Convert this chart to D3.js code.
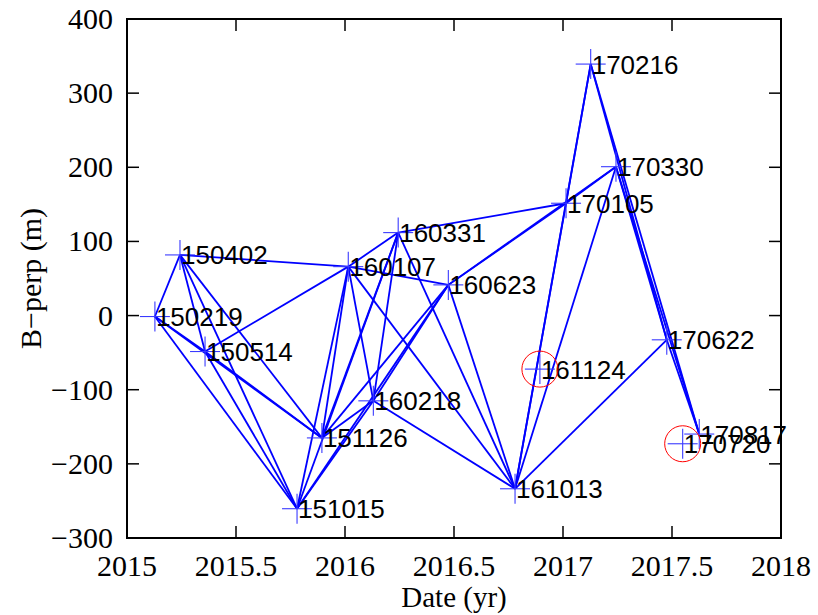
<!DOCTYPE html>
<html>
<head>
<meta charset="utf-8">
<script src="https://cdn.jsdelivr.net/npm/d3@7"></script>
<style>
  html, body { margin: 0; padding: 0; background: #fff; }
  svg { display: block; }
</style>
</head>
<body>
<svg id="chart" width="818" height="615"></svg>
<script>
// ---- data ----
const scenes = ["150219","150402","150514","151015","151126","160107","160218","160331","160623",
                "161013","161124","170105","170216","170330","170622","170720","170817"];
const dateYr = [2015.128,2015.243,2015.358,2015.780,2015.894,2016.015,2016.130,2016.244,2016.474,
                2016.780,2016.894,2017.014,2017.127,2017.243,2017.476,2017.549,2017.625];
const bperp  = [-1.3,81.8,-48.5,-260.5,-165,66,-115,111.9,41.4,
                -233.6,-72.2,151.5,339.2,200.8,-32.7,-172.9,-159.8];
const pairsFrom = ["150219","150219","150219","150219","150402","150402","150402","150402",
                   "150514","150514","150514","151015","151015","151015","151015",
                   "151126","151126","151126","151126","160107","160107","160107","160107",
                   "160218","160218","160218","160331","160331","160623","160623","160623",
                   "161013","161013","161013","161013","170105","170105",
                   "170216","170216","170330","170330","170622"];
const pairsTo   = ["150402","150514","151126","151015","150514","151015","151126","160107",
                   "151015","151126","160107","160107","160331","160218","160623",
                   "160107","160331","160218","160623","160218","160331","160623","161013",
                   "160331","160623","161013","170105","161013","161013","170105","170330",
                   "170105","170216","170330","170622","170216","170330",
                   "170622","170817","170622","170817","170817"];
const flagged = ["161124","170720"];
const xTicks = [2015,2015.5,2016,2016.5,2017,2017.5,2018];
const yTicks = [-300,-200,-100,0,100,200,300,400];

// ---- layout ----
const svg = d3.select("#chart");
const L = 127, R = 781, T = 19, B = 538;
const x = d3.scaleLinear().domain([2015, 2018]).range([L, R]);
const y = d3.scaleLinear().domain([-300, 400]).range([B, T]);

const idx = {};
scenes.forEach((s, i) => idx[s] = i);
const pts = scenes.map((s, i) => ({name: s, t: dateYr[i], b: bperp[i]}));

// edges
const g = svg.append("g");
g.selectAll("line.edge").data(pairsFrom.map((f, i) => [pts[idx[f]], pts[idx[pairsTo[i]]]]))
  .join("line").attr("class", "edge")
  .attr("x1", d => x(d[0].t)).attr("y1", d => y(d[0].b))
  .attr("x2", d => x(d[1].t)).attr("y2", d => y(d[1].b))
  .attr("stroke", "#0000ff").attr("stroke-width", 1.8);

// crosses
const cs = 15;
const cross = g.selectAll("g.pt").data(pts).join("g").attr("class", "pt")
  .attr("transform", d => `translate(${x(d.t)},${y(d.b)})`);
cross.append("line").attr("x1", -cs).attr("x2", cs).attr("y1", 0).attr("y2", 0)
  .attr("stroke", "#3a3aff").attr("stroke-width", 1.1);
cross.append("line").attr("x1", 0).attr("x2", 0).attr("y1", -cs).attr("y2", cs)
  .attr("stroke", "#3a3aff").attr("stroke-width", 1.1);

// labels
g.selectAll("text.lbl").data(pts).join("text").attr("class", "lbl")
  .attr("x", d => x(d.t) + 1).attr("y", d => y(d.b) + 9.5)
  .attr("font-family", "'Liberation Sans', Arial, sans-serif")
  .attr("font-size", 26).attr("fill", "#000")
  .text(d => d.name);

// flagged circles
g.selectAll("circle.flag").data(pts.filter(d => flagged.includes(d.name))).join("circle")
  .attr("class", "flag")
  .attr("cx", d => x(d.t)).attr("cy", d => y(d.b)).attr("r", 18)
  .attr("fill", "none").attr("stroke", "#ff0000").attr("stroke-width", 1);

// axes box + ticks
const ax = svg.append("g");
const tl = 12;
ax.selectAll("line.xb").data(xTicks.slice(1, -1)).join("line")
  .attr("x1", d => x(d)).attr("x2", d => x(d)).attr("y1", B).attr("y2", B - tl)
  .attr("stroke", "#000").attr("stroke-width", 1.5);
ax.selectAll("line.xt").data(xTicks.slice(1, -1)).join("line")
  .attr("x1", d => x(d)).attr("x2", d => x(d)).attr("y1", T).attr("y2", T + tl)
  .attr("stroke", "#000").attr("stroke-width", 1.5);
ax.selectAll("line.yl").data(yTicks.slice(1, -1)).join("line")
  .attr("x1", L).attr("x2", L + tl).attr("y1", d => y(d)).attr("y2", d => y(d))
  .attr("stroke", "#000").attr("stroke-width", 1.5);
ax.selectAll("line.yr").data(yTicks.slice(1, -1)).join("line")
  .attr("x1", R).attr("x2", R - tl).attr("y1", d => y(d)).attr("y2", d => y(d))
  .attr("stroke", "#000").attr("stroke-width", 1.5);
ax.append("rect").attr("x", L).attr("y", T).attr("width", R - L).attr("height", B - T)
  .attr("fill", "none").attr("stroke", "#000").attr("stroke-width", 2);

const serif = "'Liberation Serif', 'Times New Roman', serif";
ax.selectAll("text.xt").data(xTicks).join("text")
  .attr("x", d => x(d)).attr("y", B + 38)
  .attr("text-anchor", "middle").attr("font-family", serif).attr("font-size", 30)
  .text(d => String(d));
ax.selectAll("text.yt").data(yTicks).join("text")
  .attr("x", L - 14).attr("y", d => y(d) + 10)
  .attr("text-anchor", "end").attr("font-family", serif).attr("font-size", 30)
  .text(d => d < 0 ? "\u2212" + Math.abs(d) : String(d));

svg.append("text").attr("x", (L + R) / 2).attr("y", 607)
  .attr("text-anchor", "middle").attr("font-family", serif).attr("font-size", 29)
  .text("Date (yr)");
svg.append("text")
  .attr("transform", `translate(41,${(T + B) / 2}) rotate(-90)`)
  .attr("text-anchor", "middle").attr("font-family", serif).attr("font-size", 30)
  .text("B\u2212perp (m)");
</script>
</body>
</html>
